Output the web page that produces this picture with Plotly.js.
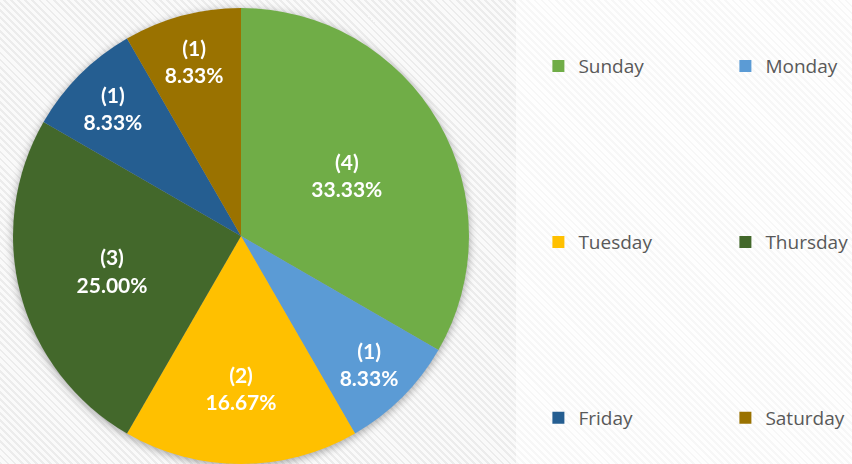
<!DOCTYPE html>
<html>
<head>
<meta charset="utf-8">
<script src="https://cdn.plot.ly/plotly-3.0.1.min.js"></script>
<style>
  html, body { margin: 0; padding: 0; }
  body {
    width: 852px; height: 464px; overflow: hidden;
    background:
      repeating-linear-gradient(45deg, #ececec 0px, #ececec 2px, #fafafa 2px, #fafafa 5px) 0 0 / 516px 464px no-repeat,
      repeating-linear-gradient(45deg, #f7f7f7 0px, #f7f7f7 2px, #fefefe 2px, #fefefe 5px);
  }
  #chart { width: 852px; height: 464px; }
  .pielayer .trace { filter: drop-shadow(0px 2px 4px rgba(0,0,0,0.35)); }
</style>
</head>
<body>
<div id="chart"></div>
<script>
const days = ["Sunday", "Monday", "Tuesday", "Thursday", "Friday", "Saturday"];
const counts = [4, 1, 2, 3, 1, 1];
const colors = ["#70AD47", "#5B9BD5", "#FFC000", "#43682B", "#255E91", "#9A7200"];

// legend rows in the reference are widely spaced; pad the first two legend rows with blank lines
const pad = "<br>&nbsp;".repeat(6);
const legendLabels = days.map((d, i) => (i < 4 ? d + pad : d));

const trace = {
  type: "pie",
  labels: legendLabels,
  values: counts,
  sort: false,
  direction: "clockwise",
  rotation: 0,
  marker: { colors: colors, line: { width: 0 } },
  texttemplate: "(%{value})<br>%{percent:.2%}",
  textposition: "inside",
  insidetextorientation: "horizontal",
  textfont: { family: "Lato, 'Open Sans', sans-serif", size: 21, color: "#ffffff", weight: "bold" },
  hoverinfo: "none",
  domain: { x: [0.027, 0.973], y: [0, 1] }
};

const layout = {
  width: 852,
  height: 464,
  margin: { l: 0, r: 370, t: 8, b: 0, autoexpand: false },
  paper_bgcolor: "rgba(0,0,0,0)",
  plot_bgcolor: "rgba(0,0,0,0)",
  showlegend: true,
  legend: {
    orientation: "h",
    x: 1.117,
    xanchor: "left",
    y: 0.914,
    yanchor: "top",
    entrywidth: 142,
    valign: "top",
    maxheight: 460,
    traceorder: "normal",
    font: { family: "'Open Sans', Lato, sans-serif", size: 19, color: "#595959" },
    bgcolor: "rgba(0,0,0,0)"
  }
};

Plotly.newPlot("chart", [trace], layout, { displayModeBar: false, staticPlot: true });
</script>
</body>
</html>
